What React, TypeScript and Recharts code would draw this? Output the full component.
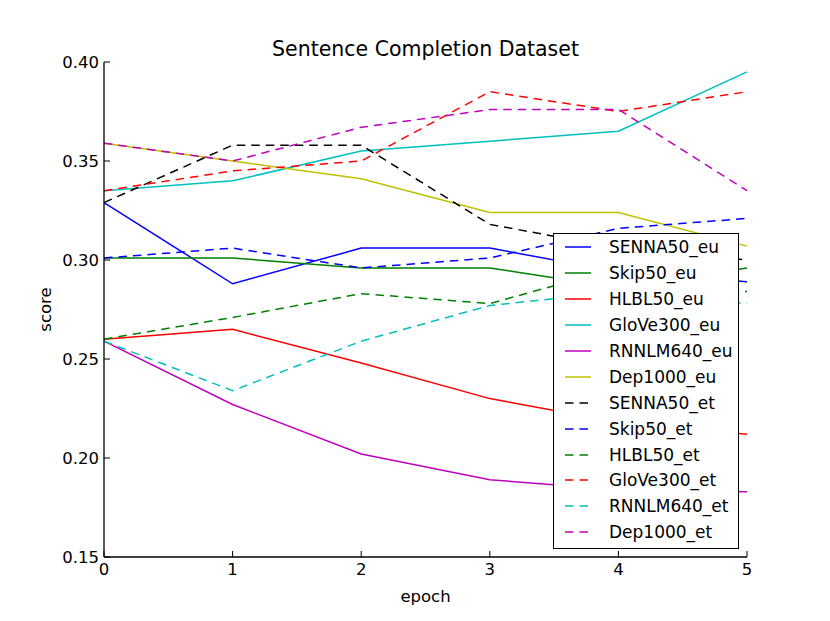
import { LineChart, Line, XAxis, YAxis, Legend } from 'recharts';

// epochs on the x axis, scores
const epochs = [0, 1, 2, 3, 4, 5];
const scoreTicks = [0.15, 0.2, 0.25, 0.3, 0.35, 0.4];

const senna50Eu = [0.329, 0.288, 0.306, 0.306, 0.294, 0.289];
const skip50Eu = [0.301, 0.301, 0.296, 0.296, 0.286, 0.296];
const hlbl50Eu = [0.26, 0.265, 0.248, 0.23, 0.218, 0.212];
const glove300Eu = [0.335, 0.34, 0.355, 0.36, 0.365, 0.395];
const rnnlm640Eu = [0.259, 0.227, 0.202, 0.189, 0.184, 0.183];
const dep1000Eu = [0.359, 0.35, 0.341, 0.324, 0.324, 0.307];
const senna50Et = [0.329, 0.358, 0.358, 0.318, 0.306, 0.3];
const skip50Et = [0.301, 0.306, 0.296, 0.301, 0.316, 0.321];
const hlbl50Et = [0.26, 0.271, 0.283, 0.278, 0.296, 0.284];
const glove300Et = [0.335, 0.345, 0.35, 0.385, 0.375, 0.385];
const rnnlm640Et = [0.259, 0.234, 0.259, 0.277, 0.284, 0.278];
const dep1000Et = [0.359, 0.35, 0.367, 0.376, 0.376, 0.335];

const series = [
  { name: 'SENNA50_eu', values: senna50Eu, color: '#0000ff', dashed: false },
  { name: 'Skip50_eu', values: skip50Eu, color: '#008000', dashed: false },
  { name: 'HLBL50_eu', values: hlbl50Eu, color: '#ff0000', dashed: false },
  { name: 'GloVe300_eu', values: glove300Eu, color: '#00bfbf', dashed: false },
  { name: 'RNNLM640_eu', values: rnnlm640Eu, color: '#bf00bf', dashed: false },
  { name: 'Dep1000_eu', values: dep1000Eu, color: '#bfbf00', dashed: false },
  { name: 'SENNA50_et', values: senna50Et, color: '#000000', dashed: true },
  { name: 'Skip50_et', values: skip50Et, color: '#0000ff', dashed: true },
  { name: 'HLBL50_et', values: hlbl50Et, color: '#008000', dashed: true },
  { name: 'GloVe300_et', values: glove300Et, color: '#ff0000', dashed: true },
  { name: 'RNNLM640_et', values: rnnlm640Et, color: '#00bfbf', dashed: true },
  { name: 'Dep1000_et', values: dep1000Et, color: '#bf00bf', dashed: true },
];

const data = epochs.map((epoch, i) => {
  const row: Record<string, number> = { epoch };
  series.forEach((s) => {
    row[s.name] = s.values[i];
  });
  return row;
});

const FONT = '"DejaVu Sans", sans-serif';
const DASH = '8.5 6';

const tickStyle = { fill: '#000', fontSize: 16.5, fontFamily: FONT };
const frame = { stroke: '#000', strokeWidth: 1.3 };

function LegendBox() {
  return (
    <div
      style={{
        position: 'relative',
        width: 186,
        height: 316,
        boxSizing: 'border-box',
        border: '1.3px solid #000',
        background: '#fff',
        fontFamily: FONT,
        fontSize: 17,
      }}
    >
      {series.map((s, i) => (
        <div
          key={s.name}
          style={{
            position: 'absolute',
            left: 0,
            top: 0.3 + i * 25.9,
            height: 26,
            lineHeight: '26px',
            width: '100%',
          }}
        >
          <svg
            width={26}
            height={26}
            style={{ position: 'absolute', left: 11, top: 0 }}
          >
            <line
              x1={0}
              y1={13}
              x2={26}
              y2={13}
              stroke={s.color}
              strokeWidth={1.5}
              strokeDasharray={s.dashed ? DASH : undefined}
            />
          </svg>
          <span style={{ position: 'absolute', left: 55, top: 0, color: '#000' }}>
            {s.name}
          </span>
        </div>
      ))}
    </div>
  );
}

export default function App() {
  return (
    <div
      style={{
        position: 'relative',
        width: 830,
        height: 621,
        background: '#fff',
        fontFamily: FONT,
      }}
    >
      <style>{'body { margin: 0; }'}</style>
      <div
        style={{
          position: 'absolute',
          left: 104,
          width: 643,
          top: 39,
          textAlign: 'center',
          fontSize: 20.5,
          lineHeight: '20.5px',
          color: '#000',
          zIndex: 2,
        }}
      >
        Sentence Completion Dataset
      </div>
      <LineChart
        width={830}
        height={621}
        data={data}
        margin={{ top: 62, right: 83, bottom: 0, left: 44 }}
      >
        <XAxis
          dataKey="epoch"
          type="number"
          domain={[0, 5]}
          ticks={epochs}
          interval={0}
          height={64}
          stroke="#000"
          axisLine={frame}
          tickSize={-6}
          tickMargin={12}
          tick={tickStyle}
          label={{
            value: 'epoch',
            position: 'insideBottom',
            offset: 19.5,
            fill: '#000',
            fontSize: 16.5,
            fontFamily: FONT,
          }}
        />
        <XAxis
          xAxisId="top"
          orientation="top"
          type="number"
          domain={[0, 5]}
          ticks={epochs}
          interval={0}
          height={0}
          stroke="#000"
          axisLine={frame}
          tickSize={-6}
          tick={false}
        />
        <YAxis
          type="number"
          domain={[0.15, 0.4]}
          ticks={scoreTicks}
          interval={0}
          width={60}
          stroke="#000"
          axisLine={frame}
          tickSize={-6}
          tickMargin={11}
          tick={tickStyle}
          tickFormatter={(v: number) => v.toFixed(2)}
          label={{
            value: 'score',
            angle: -90,
            position: 'insideLeft',
            offset: 1.5,
            fill: '#000',
            fontSize: 16.5,
            fontFamily: FONT,
            style: { textAnchor: 'middle' },
          }}
        />
        <YAxis
          yAxisId="right"
          orientation="right"
          type="number"
          domain={[0.15, 0.4]}
          ticks={scoreTicks}
          interval={0}
          width={0}
          stroke="#000"
          axisLine={frame}
          tickSize={-6}
          tick={false}
        />
        {series.map((s) => (
          <Line
            key={s.name}
            type="linear"
            dataKey={s.name}
            name={s.name}
            stroke={s.color}
            strokeWidth={1.5}
            strokeDasharray={s.dashed ? DASH : undefined}
            dot={false}
            activeDot={false}
            isAnimationActive={false}
          />
        ))}
        <Legend
          layout="vertical"
          align="center"
          verticalAlign="middle"
          content={() => <LegendBox />}
          wrapperStyle={{ position: 'absolute', left: 553, top: 233, width: 186, height: 316 }}
        />
      </LineChart>
    </div>
  );
}
